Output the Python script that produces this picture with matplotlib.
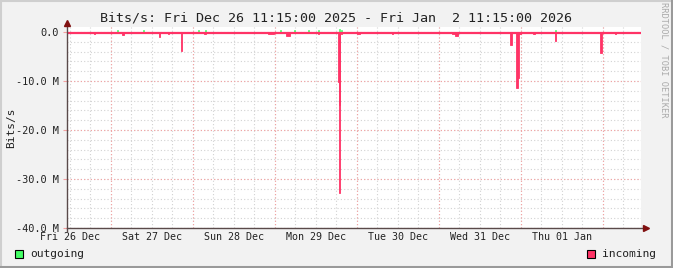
import matplotlib
matplotlib.use("Agg")
import matplotlib.pyplot as plt
from matplotlib.patches import Rectangle
from matplotlib.lines import Line2D
import numpy as np

# ---------------------------------------------------------------------------
#  Data (hours since Fri Dec 26 11:15, values in Mbit/s)
# ---------------------------------------------------------------------------
span_hours = 168
day_labels = ["Fri 26 Dec", "Sat 27 Dec", "Sun 28 Dec", "Mon 29 Dec",
              "Tue 30 Dec", "Wed 31 Dec", "Thu 01 Jan"]
first_midnight = 12.75          # Dec 27 00:00 relative to start

# incoming traffic spikes (drawn negative)
in_hours = [7.9, 16.2, 26.9, 29.6, 33.4, 40.1, 58.8, 64.1, 73.5,
            79.3, 79.65, 79.75, 80.2, 84.9, 95.1, 112.7, 113.6,
            129.8, 131.4, 131.9, 132.4, 136.4, 142.8, 156.0, 160.4, 161.3]
in_width = [0.3, 0.6, 0.3, 0.3, 0.3, 0.6, 1.75, 1.2, 0.3,
            0.45, 0.3, 0.15, 0.3, 0.9, 0.45, 1.75, 0.9,
            0.3, 0.5, 0.4, 0.6, 0.6, 0.25, 0.6, 0.3, 0.3]
in_mbits = [-0.35, -0.7, -1.0, -0.35, -3.8, -0.5, -0.35, -0.75, -0.4,
            -10.3, -15.0, -32.8, -0.4, -0.35, -0.35, -0.4, -0.75,
            -2.6, -11.4, -9.5, -0.4, -0.5, -1.8, -4.4, -0.4, -0.3]
in_floor = -0.15

# outgoing traffic (tiny positive blips)
out_hours = [14.6, 22.2, 38.3, 40.4, 62.3, 66.4, 70.5, 73.5, 79.6, 80.2, 142.8]
out_mbits = [0.3, 0.3, 0.35, 0.3, 0.4, 0.3, 0.3, 0.35, 0.5, 0.3, 0.35]

y_ticks = [0, -10, -20, -30, -40]
y_tick_labels = ["0.0", "-10.0 M", "-20.0 M", "-30.0 M", "-40.0 M"]

# ---------------------------------------------------------------------------
#  Style
# ---------------------------------------------------------------------------
RED = "#FF3366"
GREEN = "#44FF66"
BACK = "#F2F2F2"
MINOR = "#D2D2D2"
MAJOR = "#F4A0A0"
AXIS = "#5A4A4A"
ARROW = "#801010"
MONO = "DejaVu Sans Mono"

W, H = 673, 268
fig = plt.figure(figsize=(W / 100, H / 100), dpi=100, facecolor=BACK)

left, right, top, bottom = 67, 641, 27, 228
ax = fig.add_axes([left / W, 1 - bottom / H, (right - left) / W, (bottom - top) / H])
ax.set_facecolor("white")

scale = 1e6
ax.bar(in_hours, np.array(in_mbits) * scale, width=in_width, align="edge",
       color=RED, edgecolor=RED, linewidth=0.6, zorder=3)
ax.bar(out_hours, np.array(out_mbits) * scale, width=0.3, align="edge",
       color=GREEN, edgecolor=GREEN, linewidth=0.5, zorder=2.5)
ax.axhline(in_floor * scale, color=RED, lw=1.6, zorder=4)

ax.set_xlim(0, span_hours)
ax.set_ylim(-40 * scale, 1.0 * scale)

# grid: minor every 6 h / 2 M, major at midnight / 10 M
minor_x = np.arange(first_midnight - 12, span_hours, 6)
major_x = np.arange(first_midnight, span_hours, 24)
for x in minor_x:
    ax.axvline(x, color=MINOR, lw=0.8, ls=(0, (1, 2)), zorder=1)
for x in major_x:
    ax.axvline(x, color=MAJOR, lw=0.8, ls=(0, (1, 2)), zorder=2)
for y in np.arange(-40, 1, 2):
    ax.axhline(y * scale, color=MINOR, lw=0.8, ls=(0, (1, 2)), zorder=1)
for y in y_ticks[1:]:
    ax.axhline(y * scale, color=MAJOR, lw=0.8, ls=(0, (1, 2)), zorder=2)

ax.set_yticks([v * scale for v in y_ticks])
ax.set_yticklabels(y_tick_labels, family=MONO, fontsize=7.4, color="#222222")
ax.set_xticks([first_midnight - 12 + 24 * i for i in range(len(day_labels))])
ax.set_xticklabels(day_labels, family=MONO, fontsize=7.2, color="#222222")
ax.tick_params(axis="y", length=3, width=0.8, color=MAJOR, pad=3)
ax.tick_params(axis="x", length=0, pad=3)

for s in ax.spines.values():
    s.set_visible(False)

# axis lines with arrows
fig.add_artist(Line2D([left / W, 645 / W], [1 - bottom / H] * 2,
                      color=AXIS, lw=1.0, transform=fig.transFigure))
fig.add_artist(Line2D([left / W] * 2, [1 - 231 / H, 1 - 24 / H],
                      color=AXIS, lw=1.0, transform=fig.transFigure))
fig.add_artist(Line2D([646 / W], [1 - bottom / H], marker=">", ms=4.5,
                      color=ARROW, transform=fig.transFigure))
fig.add_artist(Line2D([left / W], [1 - 23 / H], marker="^", ms=4.5,
                      color=ARROW, transform=fig.transFigure))

# texts
fig.text(0.5, 1 - 18 / H,
         "Bits/s: Fri Dec 26 11:15:00 2025 - Fri Jan  2 11:15:00 2026",
         ha="center", va="center", family=MONO, fontsize=9.6, color="#222222")
fig.text(11 / W, 1 - 128 / H, "Bits/s", rotation=90, ha="center", va="center",
         family=MONO, fontsize=8, color="#222222")
fig.text(664 / W, 1 - 60 / H, "RRDTOOL / TOBI OETIKER", rotation=270,
         ha="center", va="center", family=MONO, fontsize=6.2, color="#AAAAAA")

# legend
for x0, color, label in [(15, GREEN, "outgoing"), (587, RED, "incoming")]:
    fig.add_artist(Rectangle((x0 / W, 1 - 258 / H), 8 / W, 8 / H,
                             transform=fig.transFigure, facecolor=color,
                             edgecolor="black", lw=0.8))
    fig.text((x0 + 15) / W, 1 - 257 / H, label, ha="left", va="baseline",
             family=MONO, fontsize=8.1, color="#222222")

# image frame (rrdtool style shading)
fig.add_artist(Line2D([0, 1], [1 - 1 / H] * 2, color="#CFCFCF", lw=1.5,
                      transform=fig.transFigure))
fig.add_artist(Line2D([1 / W] * 2, [0, 1], color="#CFCFCF", lw=1.5,
                      transform=fig.transFigure))
fig.add_artist(Line2D([0, 1], [1 / H] * 2, color="#9A9A9A", lw=2.2,
                      transform=fig.transFigure))
fig.add_artist(Line2D([1 - 1.5 / W] * 2, [0, 1], color="#9A9A9A", lw=2.2,
                      transform=fig.transFigure))

fig.savefig("out.png", dpi=100, facecolor=BACK)
